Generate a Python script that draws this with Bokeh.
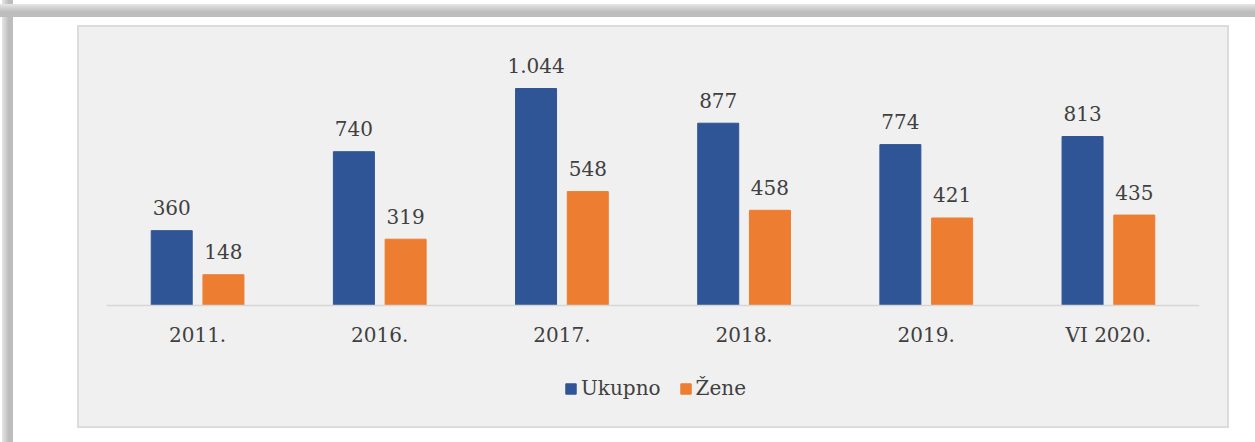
from bokeh.plotting import figure
from bokeh.models import (ColumnDataSource, FactorRange, Range1d, Legend, LegendItem)
from bokeh.transform import dodge
from bokeh.core.properties import value
from bokeh.embed import file_html
from bokeh.resources import INLINE

categories = ["2011.", "2016.", "2017.", "2018.", "2019.", "VI 2020."]
ukupno = [360, 740, 1044, 877, 774, 813]
zene = [148, 319, 548, 458, 421, 435]


def fmt(v):
    return f"{v:,}".replace(",", ".")


src = ColumnDataSource(dict(
    cat=categories,
    ukupno=ukupno,
    zene=zene,
    ukupno_lbl=[fmt(v) for v in ukupno],
    zene_lbl=[fmt(v) for v in zene],
))

BLUE = "#2f5597"
ORANGE = "#ed7d31"
TXT = "#404040"
FONT = "DejaVu Serif"

W, H = 1255, 442
# frame spans from the top margin down to the legend; baseline (0) sits 125px above frame bottom
p = figure(width=W, height=H, output_backend="svg", toolbar_location=None,
           x_range=FactorRange(*categories, range_padding=0),
           y_range=Range1d(-601.5, 1275),
           min_border_left=106, min_border_right=56, min_border_top=40, min_border_bottom=12)

p.background_fill_alpha = 0
p.border_fill_alpha = 0
p.outline_line_color = None
p.grid.visible = False
p.yaxis.visible = False

# page decoration: grey frame band, white sheet, light grey chart panel
p.styles = {
    "background": (
        "linear-gradient(to bottom,#e6e6e6,#bdbdbd 60%,#bdbdbd) 0 4px/100% 13px no-repeat,"
        "linear-gradient(to right,#e6e6e6,#bdbdbd 60%,#bdbdbd) 2px 0/11px 100% no-repeat,"
        "linear-gradient(#f0f0f0,#f0f0f0) 79px 27px/1148px 399px no-repeat,"
        "linear-gradient(#dcdcdc,#dcdcdc) 77px 25px/1152px 403px no-repeat,"
        "white"
    )
}

off = 0.142
bw = 0.225
r1 = p.vbar(x=dodge("cat", -off, range=p.x_range), top="ukupno", width=bw, source=src,
            fill_color=BLUE, line_color=BLUE)
r2 = p.vbar(x=dodge("cat", off, range=p.x_range), top="zene", width=bw, source=src,
            fill_color=ORANGE, line_color=ORANGE)

for col, o in (("ukupno", -off), ("zene", off)):
    p.text(x=dodge("cat", o, range=p.x_range), y=col, text=col + "_lbl", source=src,
           text_align="center", text_baseline="alphabetic", y_offset=-23,
           text_font=value(FONT), text_font_size="20px", text_color=TXT)

ax = p.xaxis[0]
ax.fixed_location = 0
ax.axis_line_color = "#d6d6d6"
ax.axis_line_width = 1.5
ax.major_tick_line_color = None
ax.minor_tick_line_color = None
ax.major_label_text_font = FONT
ax.major_label_text_font_size = "20px"
ax.major_label_text_color = TXT
ax.major_label_standoff = 12

legend = Legend(items=[LegendItem(label="Ukupno", renderers=[r1]),
                       LegendItem(label="Žene", renderers=[r2])],
                orientation="horizontal", location=(458, 30),
                background_fill_alpha=0, border_line_alpha=0,
                glyph_width=13, glyph_height=13, label_standoff=4, spacing=18,
                label_text_font=FONT, label_text_font_size="20px", label_text_color=TXT,
                padding=0, margin=0)
p.add_layout(legend, "center")

open("out.html", "w").write(file_html(p, INLINE))
